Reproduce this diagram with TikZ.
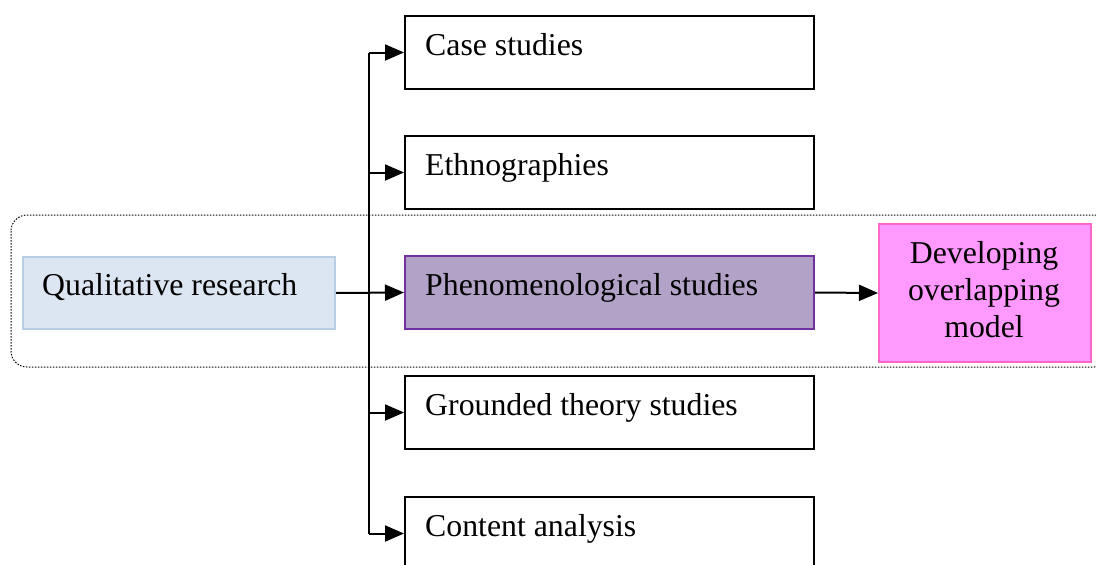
\documentclass[tikz,border=0pt]{standalone}
\usepackage{fontspec}
\setmainfont{Liberation Serif}
\usetikzlibrary{arrows.meta}
\begin{document}
\begin{tikzpicture}[x=1pt,y=-1pt,
  every node/.style={font=\fontsize{31.8}{37}\selectfont},
  box/.style={draw=black,line width=2pt,fill=white,anchor=north west,
    minimum width=409pt,minimum height=73pt,inner sep=0pt},
  lbl/.style={anchor=base west,inner sep=0pt},
  arr/.style={line width=2pt,-{Triangle[length=19pt,width=16pt]}},
  wire/.style={line width=2pt}]
\useasboundingbox (0,0) rectangle (1096,565);
\clip (0,0) rectangle (1096,565);

% dotted frame around the main path
\draw[line width=1pt,dash pattern=on 1.5pt off 1.5pt,rounded corners=16pt]
  (11,215) rectangle (1110,367);

% method boxes
\node[box] (case) at (404,15) {};
\node[box] (ethno) at (404,135) {};
\node[box,draw={rgb,255:red,112;green,48;blue,160},
  fill={rgb,255:red,179;green,162;blue,199}] (phen) at (404,255) {};
\node[box] (ground) at (404,375) {};
\node[box] (content) at (404,496) {};

\node[lbl] (caset) at (425,55) {Case studies};
\node[lbl] (ethnot) at (425,175) {Ethnographies};
\node[lbl] (phent) at (425,295) {Phenomenological studies};
\node[lbl] (groundt) at (425,415) {Grounded theory studies};
\node[lbl] (contentt) at (425,536) {Content analysis};

% starting point
\node[draw={rgb,255:red,185;green,205;blue,229},line width=2pt,
  fill={rgb,255:red,220;green,230;blue,242},anchor=north west,
  minimum width=312pt,minimum height=72pt,inner sep=0pt] (qual) at (22,256) {};
\node[lbl] (qualt) at (42,295) {Qualitative research};

% outcome
\node[draw={rgb,255:red,255;green,102;blue,204},line width=2pt,
  fill={rgb,255:red,255;green,153;blue,255},anchor=north west,
  minimum width=212pt,minimum height=138pt,inner sep=0pt] (model) at (878,223) {};
\node[align=center,inner sep=0pt,anchor=base] (modelt) at (984,337)
  {Developing\\overlapping\\model};

% branching connectors
\coordinate (trunk) at (369,0);
\draw[wire] (case.west -| trunk) -- (content.west -| trunk);
\draw[arr] (case.west -| trunk) -- (case.west);
\draw[arr] (ethno.west -| trunk) -- (ethno.west);
\draw[arr] (ground.west -| trunk) -- (ground.west);
\draw[arr] (content.west -| trunk) -- (content.west);
\draw[arr] (qual.east) -- (phen.west);
\draw[arr] (phen.east) -- (model.west);
\end{tikzpicture}
\end{document}
